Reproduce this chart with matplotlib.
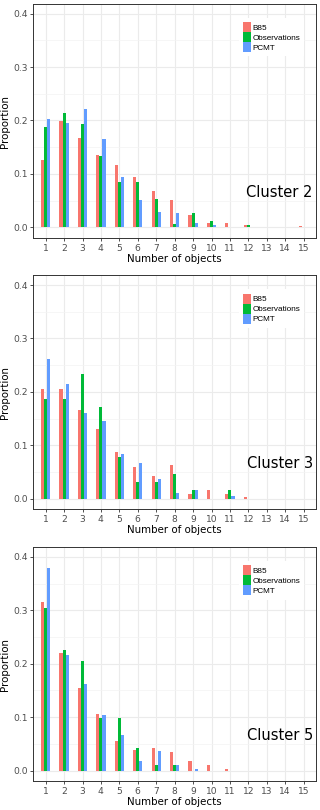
import matplotlib
matplotlib.use("Agg")
import matplotlib.pyplot as plt
import numpy as np
from matplotlib.patches import Patch

categories = list(range(1, 16))
series_names = ["B85", "Observations", "PCMT"]
colors = ["#F8766D", "#00BA38", "#619CFF"]
cluster_labels = ["Cluster 2", "Cluster 3", "Cluster 5"]

c2_b85 = [0.126, 0.199, 0.167, 0.136, 0.116, 0.094, 0.0675, 0.051, 0.0225, 0.009, 0.0075, 0.004, 0, 0, 0.002]
c2_obs = [0.1875, 0.214, 0.1925, 0.134, 0.085, 0.085, 0.053, 0.0056, 0.027, 0.011, 0, 0.005, 0, 0, 0]
c2_pcmt = [0.203, 0.196, 0.221, 0.166, 0.094, 0.052, 0.028, 0.027, 0.009, 0.004, 0, 0, 0, 0, 0]

c3_b85 = [0.206, 0.206, 0.166, 0.131, 0.087, 0.059, 0.043, 0.0625, 0.009, 0.016, 0.009, 0.003, 0, 0, 0]
c3_obs = [0.187, 0.187, 0.234, 0.171, 0.078, 0.031, 0.031, 0.047, 0.016, 0, 0.016, 0, 0, 0, 0]
c3_pcmt = [0.261, 0.214, 0.161, 0.146, 0.083, 0.0675, 0.036, 0.010, 0.016, 0, 0.005, 0, 0, 0, 0]

c5_b85 = [0.315, 0.220, 0.154, 0.106, 0.055, 0.039, 0.043, 0.034, 0.0175, 0.011, 0.003, 0, 0, 0, 0]
c5_obs = [0.304, 0.2265, 0.2055, 0.098, 0.098, 0.043, 0.011, 0.011, 0, 0, 0, 0, 0, 0, 0]
c5_pcmt = [0.380, 0.2167, 0.163, 0.105, 0.066, 0.018, 0.036, 0.011, 0.003, 0, 0, 0, 0, 0, 0]

panels = [
    (c2_b85, c2_obs, c2_pcmt),
    (c3_b85, c3_obs, c3_pcmt),
    (c5_b85, c5_obs, c5_pcmt),
]

W, H = 320, 810
fig = plt.figure(figsize=(W / 100, H / 100), dpi=100)
fig.patch.set_facecolor("white")

ax_left = 33.3
ax_right = 316.0
ax_h = 234.0
tops = [4.0, 275.4, 547.3]

bar_w = 0.167
offsets = [-bar_w, 0.0, bar_w]

for i, (vals, label) in enumerate(zip(panels, cluster_labels)):
    top = tops[i]
    ax = fig.add_axes([ax_left / W, (H - top - ax_h) / H, (ax_right - ax_left) / W, ax_h / H])
    ax.set_facecolor("white")
    x = np.array(categories, dtype=float)
    for s, (v, c, off) in enumerate(zip(vals, colors, offsets)):
        ax.bar(x + off, v, width=bar_w, color=c, linewidth=0, zorder=3)
    ax.set_xlim(0.33, 15.67)
    ax.set_ylim(-0.02, 0.418)
    ax.set_xticks(categories)
    ax.set_xticklabels([str(c) for c in categories])
    ax.set_yticks([0.0, 0.1, 0.2, 0.3, 0.4])
    ax.set_yticklabels(["0.0", "0.1", "0.2", "0.3", "0.4"])
    ax.set_yticks([0.05, 0.15, 0.25, 0.35], minor=True)
    ax.grid(True, which="major", color="#EBEBEB", linewidth=0.8, zorder=0)
    ax.grid(True, which="minor", axis="y", color="#F3F3F3", linewidth=0.5, zorder=0)
    ax.tick_params(axis="both", which="major", labelsize=6.6, labelcolor="#4D4D4D",
                   color="#333333", length=2.5, width=0.6, pad=1.5)
    ax.tick_params(axis="both", which="minor", length=0)
    for sp in ax.spines.values():
        sp.set_color("#333333")
        sp.set_linewidth(0.7)
    ax.set_xlabel("Number of objects", fontsize=7.4, color="black", labelpad=1)
    ax.set_ylabel("Proportion", fontsize=7.4, color="black", labelpad=2)
    ax.text(15.5, 0.066, label, fontsize=10.5, ha="right", va="center", color="black", zorder=5)
    handles = [Patch(facecolor=c, edgecolor="none") for c in colors]
    leg = ax.legend(handles, series_names, loc="upper left", bbox_to_anchor=(0.728, 0.94),
                    frameon=True, facecolor="white", edgecolor="none",
                    framealpha=1, fancybox=False, borderpad=0.5, labelspacing=0.0,
                    handlelength=1.0, handleheight=1.5, handletextpad=0.15,
                    borderaxespad=0, prop={"family": "Liberation Sans", "size": 5.9})
    leg.set_zorder(6)

fig.savefig("out.png", dpi=100, facecolor="white")
